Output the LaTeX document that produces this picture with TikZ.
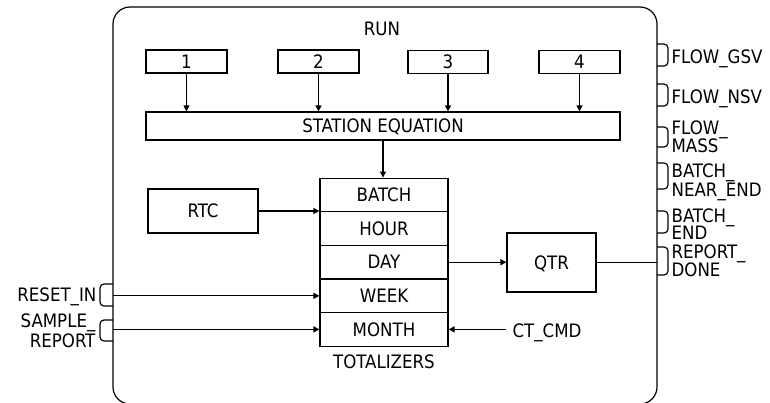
\documentclass[tikz,border=0pt]{standalone}
\usepackage{fontspec}
\setmainfont{DejaVu Sans Condensed}
\usetikzlibrary{arrows.meta}
\begin{document}
\begin{tikzpicture}[x=1pt,y=-1pt, line width=1.2pt,
  font=\fontsize{18.5pt}{19pt}\selectfont,
  box/.style={draw, inner sep=0pt, text height=13.4pt, text depth=0pt},
  lbl/.style={inner sep=0pt, anchor=base west},
  lblr/.style={inner sep=0pt, anchor=base east},
  arr/.style={-{Triangle[length=6pt,width=6pt]}},
  port/.style={rounded corners=4pt}]
\useasboundingbox (0,0) rectangle (770,402);
% outer RUN block
\draw[rounded corners=17pt] (113,7) rectangle (657,404);
\node[lbl, anchor=base] (run) at (382,35) {RUN};
% input boxes
\node[box, minimum width=81pt, minimum height=23pt] (b1) at (186.5,61.5) {1};
\node[box, minimum width=81pt, minimum height=23pt] (b2) at (318.5,61.5) {2};
\node[box, minimum width=80pt, minimum height=23pt] (b3) at (448,62) {3};
\node[box, minimum width=81pt, minimum height=23pt] (b4) at (579.5,62) {4};
\node[box, minimum width=474pt, minimum height=28pt] (se) at (383,126) {STATION EQUATION};
% totalizers
\node[box, minimum width=128pt, minimum height=33.6pt] (batch) at (384,195) {BATCH};
\node[box, minimum width=128pt, minimum height=33.6pt] (hour) at (384,228.6) {HOUR};
\node[box, minimum width=128pt, minimum height=33.6pt] (day) at (384,262.2) {DAY};
\node[box, minimum width=128pt, minimum height=33.6pt] (week) at (384,295.8) {WEEK};
\node[box, minimum width=128pt, minimum height=33.6pt] (month) at (384,329.4) {MONTH};
\node[lbl, anchor=base] (tot) at (384,368) {TOTALIZERS};
\node[box, minimum width=110pt, minimum height=44pt] (rtc) at (203,211) {RTC};
\node[box, minimum width=89pt, minimum height=59pt] (qtr) at (551.5,262.5) {QTR};
\node[lbl] (ctcmd) at (512,337) {CT\_CMD};
\coordinate (ctend) at (506,329.4);
% connectors
\foreach \b in {b1,b2,b3,b4} \draw[arr] (\b.south) -- (\b.south |- se.north);
\draw[arr] (se.south) -- (se.south |- batch.north);
\draw[arr] (rtc.east) -- (rtc.east -| batch.west);
\draw[arr] (day.east) -- (day.east -| qtr.west);
\coordinate (pdone) at (657,262.5);
\draw (qtr.east) -- (pdone);
\coordinate (preset) at (113,295.8);
\coordinate (psample) at (113,329.4);
\draw[arr] (preset) -- (preset -| week.west);
\draw[arr] (psample) -- (psample -| month.west);
\draw[arr] (ctend) -- (month.east);
% left ports
\draw[port] (113,284) -- (100,284) -- (100,306) -- (113,306);
\draw[port] (113,320) -- (100,320) -- (100,341) -- (113,341);
\node[lblr] (lreset) at (97,301.5) {RESET\_IN};
\node[lblr] (lsample) at (96,327) {SAMPLE\_};
\node[lblr] (lreport) at (96,347) {REPORT};
% right ports
\draw[port] (657,44) -- (668,44) -- (668,66) -- (657,66);
\draw[port] (657,84) -- (668,84) -- (668,106) -- (657,106);
\draw[port] (657,127) -- (668,127) -- (668,147) -- (657,147);
\draw[port] (657,163) -- (668,163) -- (668,189) -- (657,189);
\draw[port] (657,211) -- (668,211) -- (668,233) -- (657,233);
\draw[port] (657,247) -- (668,247) -- (668,275) -- (657,275);
\node[lbl] (rgsv) at (671,63) {FLOW\_GSV};
\node[lbl] (rnsv) at (671,103) {FLOW\_NSV};
\node[lbl] (rmass1) at (671,134) {FLOW\_};
\node[lbl] (rmass2) at (671,152) {MASS};
\node[lbl] (rne1) at (671,177) {BATCH\_};
\node[lbl] (rne2) at (671,196) {NEAR\_END};
\node[lbl] (rbe1) at (671,222) {BATCH\_};
\node[lbl] (rbe2) at (671,239) {END};
\node[lbl] (rrd1) at (671,258) {REPORT\_};
\node[lbl] (rrd2) at (671,276) {DONE};
\end{tikzpicture}
\end{document}
